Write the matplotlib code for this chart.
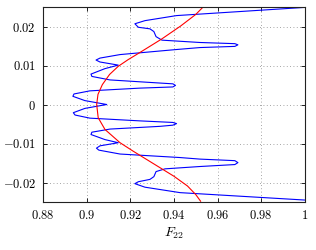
import matplotlib
matplotlib.use("Agg")
import matplotlib.pyplot as plt
from matplotlib.ticker import FuncFormatter

plt.rcParams["mathtext.fontset"] = "cm"
plt.rcParams["font.family"] = "serif"
plt.rcParams["font.serif"] = ["DejaVu Serif"]

# blue curve, traced top to bottom (F22, y)
blue_f = [
    1.0, 0.9412, 0.9267, 0.9221, 0.9237, 0.9290, 0.9308, 0.9318, 0.9345,
    0.9519, 0.9679, 0.9693, 0.9679, 0.9519, 0.9412, 0.9153, 0.9061, 0.9043,
    0.9061, 0.9145, 0.9084, 0.9020, 0.9024, 0.9107, 0.9336, 0.9395, 0.9407,
    0.9395, 0.9244, 0.9015, 0.8942, 0.8937, 0.8992, 0.9092,
    0.8992, 0.8939, 0.8947, 0.9015, 0.9244, 0.9395, 0.9412, 0.9395, 0.9336,
    0.9107, 0.9024, 0.9020, 0.9084, 0.9145, 0.9061, 0.9045, 0.9056, 0.9153,
    0.9427, 0.9519, 0.9679, 0.9693, 0.9679, 0.9519, 0.9359, 0.9318, 0.9308,
    0.9290, 0.9237, 0.9221, 0.9267, 0.9428, 1.0,
]
blue_y = [
    0.0249, 0.0228, 0.0215, 0.0207, 0.0198, 0.0194, 0.0187, 0.0174, 0.0165,
    0.0159, 0.0156, 0.0153, 0.0149, 0.0146, 0.0141, 0.0128, 0.0119, 0.0114,
    0.0109, 0.0101, 0.0092, 0.0078, 0.0072, 0.0063, 0.0055, 0.0053, 0.0049,
    0.0045, 0.0042, 0.0035, 0.0027, 0.0021, 0.0010, 0.0,
    -0.0010, -0.0021, -0.0027, -0.0035, -0.0042, -0.0046, -0.0049, -0.0053,
    -0.0056, -0.0063, -0.0071, -0.0077, -0.0090, -0.0098, -0.0106, -0.0112,
    -0.0117, -0.0127, -0.0136, -0.0140, -0.0144, -0.0149, -0.0154, -0.0159,
    -0.0165, -0.0172, -0.0185, -0.0192, -0.0198, -0.0203, -0.0212, -0.0226,
    -0.0245,
]

# red curve
red_f = [0.9530, 0.9500, 0.9430, 0.9344, 0.9243, 0.9190, 0.9145, 0.9105,
         0.9072, 0.9052, 0.9046, 0.9053, 0.9084, 0.9153, 0.9214, 0.9275,
         0.9336, 0.9400, 0.9462, 0.9500, 0.9522]
red_y = [0.0248, 0.0231, 0.0201, 0.0168, 0.0133, 0.0115, 0.0098, 0.0077,
         0.0051, 0.0026, 0.0, -0.0034, -0.0064, -0.0098, -0.0120, -0.0141,
         -0.0162, -0.0184, -0.0209, -0.0231, -0.0248]

xticks = [0.88, 0.9, 0.92, 0.94, 0.96, 0.98, 1.0]
yticks = [-0.02, -0.01, 0, 0.01, 0.02]

fig = plt.figure(figsize=(3.16, 2.5), dpi=100)
ax = fig.add_axes([0.136, 0.192, 0.829, 0.780])

ax.plot(blue_f, blue_y, color="#0000ff", lw=0.8)
ax.plot(red_f, red_y, color="#ff0000", lw=0.8)

ax.set_xlim(0.88, 1.0)
ax.set_ylim(-0.025, 0.025)
ax.set_xticks(xticks)
ax.set_yticks(yticks)
fmt = FuncFormatter(lambda v, p: "$%g$" % round(v, 4))
ax.xaxis.set_major_formatter(fmt)
ax.yaxis.set_major_formatter(fmt)
ax.tick_params(direction="in", length=3, width=0.6, top=True, right=True,
               labelsize=9, pad=5)
ax.grid(True, linestyle=(0, (1, 3)), color="#888888", lw=0.6)
for s in ax.spines.values():
    s.set_linewidth(0.8)
    s.set_color("#222222")

ax.set_xlabel("$F_{22}$", fontsize=10, labelpad=3)

fig.savefig("out.png", dpi=100)
